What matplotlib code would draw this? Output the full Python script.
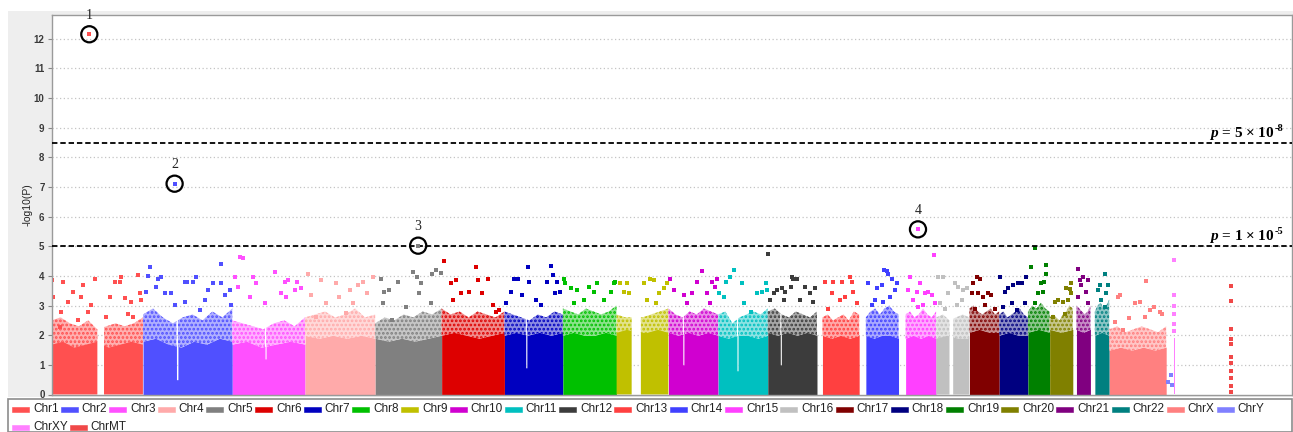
import numpy as np
import matplotlib
matplotlib.use("Agg")
import matplotlib.pyplot as plt
from matplotlib.patches import Rectangle
from matplotlib.colors import to_rgb

# ---------------- data ----------------
chrom_names = ["Chr1", "Chr2", "Chr3", "Chr4", "Chr5", "Chr6", "Chr7", "Chr8", "Chr9", "Chr10",
               "Chr11", "Chr12", "Chr13", "Chr14", "Chr15", "Chr16", "Chr17", "Chr18", "Chr19",
               "Chr20", "Chr21", "Chr22", "ChrX", "ChrY", "ChrXY", "ChrMT"]
chrom_colors = ["#ff5050", "#5050ff", "#ff50ff", "#ffaaaa", "#808080", "#dd0000", "#0000c0",
                "#00c000", "#c0c000", "#d000d0", "#00c0c0", "#3c3c3c", "#ff4040", "#4040ff",
                "#ff40ff", "#c0c0c0", "#800000", "#000080", "#008000", "#808000", "#800080",
                "#008080", "#ff8080", "#8080ff", "#ff80ff", "#f04848"]
# chromosome lengths (Mb) used for the cumulative x axis
chrom_len = [249.3, 243.2, 198.0, 191.2, 180.9, 171.1, 159.1, 146.4, 141.2, 135.5, 135.0, 133.9,
             115.2, 107.3, 102.5, 90.4, 81.2, 78.1, 59.1, 63.0, 48.1, 51.3, 155.3, 20.0, 155.0, 166.0]
# first position with markers (Mb) and last position, Chr1..ChrX
band_start = [0, 0, 0, 0, 0, 0, 0, 0, 0, 0, 0, 0, 15, 18, 19, 0, 0, 0, 0, 0, 10, 12, 0]
band_end = [249, 243, 198, 191, 181, 171, 159, 146, 141, 135, 135, 134, 115, 107, 102, 90, 81, 78,
            59, 63, 48, 51, 155]
# silhouette of the fully covered part of each column
solid_top = [
    [1.7, 1.8, 1.6, 1.7, 1.8, 1.6, 1.7, 1.8, 1.7],
    [1.8, 1.9, 1.7, 1.6, 1.8, 1.7, 1.9, 1.8],
    [1.7, 1.8, 1.6, 1.7, 1.8, 1.7],
    [2.0, 1.9, 2.0, 1.9, 2.0, 1.9],
    [1.9, 1.8, 1.9, 1.8, 1.9, 2.0],
    [2.0, 2.1, 2.0, 1.9, 2.0, 2.1],
    [2.0, 2.1, 2.0, 2.1, 2.0, 2.1],
    [2.0, 2.1, 2.0, 2.0, 2.1, 2.0],
    [2.1, 2.2, 2.1, 2.1, 2.2, 2.1],
    [2.1, 2.0, 2.1, 2.0, 2.1, 2.0],
    [2.0, 1.9, 2.0, 2.0, 1.9, 2.0],
    [2.1, 2.0, 2.1, 2.0, 2.1, 2.0],
    [2.0, 1.9, 2.0, 1.9, 2.0],
    [2.0, 1.9, 2.0, 2.0, 1.9],
    [1.9, 2.0, 1.9, 2.0, 1.9],
    [1.9, 2.0, 1.9, 1.9],
    [2.1, 2.2, 2.1, 2.1],
    [2.0, 2.1, 2.0, 2.0],
    [2.1, 2.2, 2.1],
    [2.2, 2.1, 2.2],
    [2.2, 2.1, 2.2],
    [2.0, 2.1, 2.0],
    [1.5, 1.6, 1.5, 1.6, 1.5, 1.6],
]
# silhouette of the dense (speckled) zone, read left to right along each chromosome
dense_top = [
    [2.5, 2.6, 2.4, 2.3, 2.5, 2.2, 2.3, 2.4, 2.3, 2.4, 2.6],
    [2.7, 2.9, 2.6, 2.4, 2.6, 2.7, 2.5, 2.8, 2.6, 2.9],
    [2.5, 2.4, 2.3, 2.2, 2.4, 2.5, 2.3, 2.6],
    [2.6, 2.7, 2.8, 2.6, 2.7, 2.9, 2.6, 2.7],
    [2.4, 2.6, 2.5, 2.7, 2.6, 2.8, 2.7, 2.9],
    [2.9, 2.7, 2.8, 2.6, 2.8, 2.7, 2.6, 2.8],
    [2.8, 2.7, 2.6, 2.5, 2.7, 2.6, 2.8, 2.7],
    [2.9, 2.8, 2.7, 2.9, 2.8, 2.7, 2.8, 3.0],
    [2.7, 2.6, 2.6, 2.6, 2.7, 2.8, 2.9],
    [2.9, 2.7, 2.6, 2.8, 2.7, 2.9, 2.8, 2.7],
    [2.7, 2.8, 2.4, 2.6, 2.7, 2.8, 2.7, 2.9],
    [2.8, 2.9, 2.7, 2.6, 2.8, 2.7, 2.6, 2.8],
    [2.6, 2.7, 2.5, 2.6, 2.7, 2.5, 2.8, 2.7],
    [2.6, 2.8, 2.9, 2.7, 2.9, 3.0, 2.8, 2.7],
    [2.7, 2.8, 2.6, 2.7, 2.9, 2.7, 2.6, 2.8],
    [2.6, 2.7, 2.5, 2.6, 2.7, 2.6],
    [2.9, 3.0, 2.8, 2.7, 2.8, 2.9, 2.7, 2.8],
    [2.7, 2.8, 2.6, 2.7, 2.8, 2.9, 2.7, 2.6],
    [2.8, 3.0, 2.9, 3.1, 2.9, 2.8],
    [2.6, 2.7, 2.6, 2.5, 2.7, 2.8, 3.0, 2.9],
    [3.0, 2.9, 2.8, 2.7, 2.8, 3.0],
    [2.8, 3.0, 3.1, 2.9, 3.0, 3.2],
    [2.2, 2.3, 2.1, 2.2, 2.3, 2.2, 2.1, 2.3],
]
# regions without (or with only low) markers: chromosome index, start, end, remaining height
gap_chrom = [0, 1, 2, 6, 8, 9, 10, 11, 15]
gap_start = [125, 91, 89, 58, 41, 39, 51, 34, 36]
gap_end = [143, 95, 92, 61, 66, 42, 54, 37, 46]
gap_height = [0.0, 0.5, 1.2, 0.9, 0.0, 1.0, 0.8, 1.0, 0.0]

# ChrXY dense column
xy_band = (0.0, 3.0)
xy_solid = 1.9

# sparse upper markers (position in Mb within chromosome, -log10 P)
chr1_pos = [1, 4, 31, 27, 45, 58, 81, 86, 99, 118, 108, 158, 172, 186, 188, 199, 217, 235, 240, 244, 22, 72, 149, 208, 222]
chr1_val = [3.86, 3.30, 3.80, 2.79, 3.13, 3.47, 3.30, 3.69, 2.79, 3.91, 3.02, 3.30, 3.80, 3.80, 3.97, 3.24, 3.13, 4.03, 3.41, 3.19, 2.29, 2.51, 2.62, 2.73, 2.62]
chr2_pos = [13, 18, 41, 50, 36, 9, 59, 77, 86, 113, 120, 136, 145, 177, 190, 211, 213, 222, 236, 239, 168, 154, 113]
chr2_val = [4.00, 4.31, 3.91, 3.97, 3.63, 3.47, 3.41, 3.43, 3.02, 3.80, 3.80, 3.80, 3.97, 3.52, 3.75, 4.40, 3.75, 3.35, 3.52, 3.02, 3.19, 2.85, 3.13]
chr3_pos = [20, 29, 6, 15, 56, 65, 47, 115, 151, 133, 88, 147, 170, 143, 175, 188]
chr3_val = [4.63, 4.59, 3.97, 3.63, 3.97, 3.75, 3.30, 4.14, 3.86, 3.41, 3.07, 3.30, 3.52, 3.81, 3.80, 3.60]
chr4_pos = [7, 43, 16, 84, 93, 143, 157, 184, 130, 57, 111, 30, 122, 170]
chr4_val = [4.08, 3.86, 3.35, 3.75, 3.30, 3.69, 3.80, 3.97, 3.07, 3.07, 2.74, 2.62, 3.52, 3.41]
chr5_pos = [15, 25, 38, 61, 84, 102, 115, 124, 120, 156, 165, 178, 152, 20, 47]
chr5_val = [3.91, 3.47, 3.52, 3.80, 2.96, 4.14, 3.97, 3.75, 3.41, 4.08, 4.20, 4.11, 3.07, 3.07, 2.51]
chr6_pos = [7, 25, 39, 52, 93, 98, 111, 125, 139, 30, 75, 148, 157]
chr6_val = [4.49, 3.75, 3.86, 3.41, 4.29, 3.86, 3.41, 3.91, 3.02, 3.19, 3.47, 2.79, 2.85]
chr7_pos = [26, 36, 4, 17, 65, 67, 85, 99, 49, 127, 132, 116, 143, 152, 139]
chr7_val = [3.88, 3.91, 3.07, 3.47, 4.31, 3.80, 3.19, 3.02, 3.35, 4.33, 4.03, 3.80, 3.80, 3.47, 3.41]
chr8_pos = [3, 7, 21, 39, 71, 84, 93, 130, 139, 143, 57, 112, 30]
chr8_val = [3.88, 3.75, 3.58, 3.52, 3.61, 3.47, 3.75, 3.47, 3.75, 3.80, 3.19, 3.19, 3.07]
chr9_pos = [10, 28, 19, 33, 74, 92, 101, 115, 128, 137, 83, 106]
chr9_val = [3.75, 3.75, 3.47, 3.41, 3.75, 3.91, 3.86, 3.41, 3.58, 3.75, 3.19, 3.07]
chr10_pos = [3, 14, 42, 64, 78, 92, 105, 119, 128, 132, 51, 114]
chr10_val = [3.91, 3.52, 3.35, 3.41, 3.80, 4.17, 3.41, 3.80, 3.63, 3.91, 3.07, 3.07]
chr11_pos = [20, 33, 42, 65, 1, 15, 70, 106, 119, 129, 133, 88]
chr11_val = [3.80, 3.97, 4.20, 3.75, 3.41, 3.30, 3.07, 3.41, 3.47, 3.75, 3.52, 2.79]
chr12_pos = [1, 16, 25, 39, 48, 62, 7, 43, 70, 79, 101, 115, 129, 88, 124, 65]
chr12_val = [4.73, 3.41, 3.52, 3.58, 3.47, 3.63, 3.19, 3.19, 3.88, 3.91, 3.63, 3.41, 3.58, 3.19, 3.13, 3.97]
chr13_pos = [22, 45, 67, 90, 95, 40, 63, 76, 108, 31, 99]
chr13_val = [3.80, 3.80, 3.80, 3.97, 3.80, 3.41, 3.19, 3.30, 3.07, 2.90, 3.47]
chr14_pos = [25, 47, 61, 68, 75, 79, 88, 102, 43, 34, 66, 84, 97]
chr14_val = [3.75, 3.58, 3.69, 4.20, 4.17, 4.08, 3.91, 3.75, 3.19, 3.02, 3.13, 3.30, 3.52]
chr15_pos = [26, 31, 49, 58, 72, 81, 90, 67, 40, 99, 54, 97]
chr15_val = [3.52, 3.97, 3.47, 3.75, 3.41, 3.47, 3.35, 3.02, 3.19, 3.07, 2.96, 4.70]
chr16_pos = [6, 19, 10, 33, 51, 60, 74, 83, 56, 24, 69]
chr16_val = [3.97, 3.97, 3.07, 3.41, 3.75, 3.63, 3.52, 3.58, 3.02, 2.90, 3.19]
chr17_pos = [10, 20, 29, 6, 24, 38, 51, 60, 69, 42, 15]
chr17_val = [3.75, 3.97, 3.91, 3.41, 3.41, 3.30, 3.41, 3.35, 2.90, 3.02, 2.90]
chr18_pos = [2, 15, 25, 38, 52, 61, 70, 34, 11, 47, 74]
chr18_val = [3.97, 3.47, 3.58, 3.69, 3.75, 3.75, 3.07, 3.07, 2.96, 2.85, 3.97]
chr19_pos = [7, 20, 50, 48, 36, 41, 45, 19, 28]
chr19_val = [4.31, 4.95, 4.37, 4.06, 3.75, 3.47, 3.80, 3.07, 3.41]
chr20_pos = [14, 23, 36, 50, 59, 59, 45, 9, 41, 55]
chr20_val = [3.13, 3.19, 3.13, 3.19, 3.75, 3.41, 3.58, 2.62, 2.73, 3.56]
chr21_pos = [14, 28, 19, 41, 37, 23, 41, 14]
chr21_val = [4.22, 3.97, 3.86, 3.86, 3.47, 3.69, 3.07, 3.30]
chr22_pos = [41, 25, 48, 20, 30, 43, 39]
chr22_val = [4.05, 3.69, 3.69, 3.52, 3.19, 3.41, 2.96]
chrX_pos = [99, 24, 30, 83, 69, 110, 123, 137, 144, 37, 55, 15, 96]
chrX_val = [3.84, 3.30, 3.35, 3.11, 3.07, 2.85, 2.96, 2.79, 2.73, 2.18, 2.57, 2.46, 2.62]
chrY_pos = [4, 12, 15]
chrY_val = [0.41, 0.66, 0.32]
chrXY_pos = [1, 1, 1, 1, 1, 1]
chrXY_val = [4.52, 3.37, 3.00, 2.70, 2.37, 2.15]
chrMT_pos = [0.5] * 11
chrMT_val = [3.67, 3.17, 2.21, 1.86, 1.70, 1.25, 1.06, 0.80, 0.55, 0.30, 0.10]

# circled top hits
hit_chrom = [0, 1, 4, 14]
hit_pos = [103, 86, 117, 52.7]
hit_val = [12.15, 7.11, 5.02, 5.57]
hit_label = ["1", "2", "3", "4"]

# significance lines
thr_high = 8.47
thr_low = 5.0
thr_high_label = ("5", "-8")
thr_low_label = ("1", "-5")

y_ticks = list(range(0, 13))
y_label = "-log10(P)"

# ---------------- drawing ----------------
plt.rcParams["mathtext.fontset"] = "custom"
plt.rcParams["mathtext.it"] = "Liberation Serif:italic:bold"
plt.rcParams["mathtext.rm"] = "Liberation Serif:bold"
plt.rcParams["mathtext.bf"] = "Liberation Serif:bold"
plt.rcParams["hatch.linewidth"] = 1.3

W, H = 1293, 432
fig = plt.figure(figsize=(W / 100, H / 100), dpi=100)
fig.patch.set_facecolor("white")


def box(x0, y0, x1, y1):
    return [x0 / W, 1 - y1 / H, (x1 - x0) / W, (y1 - y0) / H]


fig.patches.append(Rectangle((8 / W, 1 - 397 / H), (W - 8) / W, (397 - 11) / H,
                             transform=fig.transFigure, facecolor="#eeeeee",
                             edgecolor="none", zorder=-5))
fig.patches.append(Rectangle((8 / W, 0), (W - 9) / W, (H - 398.5) / H,
                             transform=fig.transFigure, facecolor="white",
                             edgecolor="#8c8c8c", lw=1.2, zorder=-4))

ax = fig.add_axes(box(51.5, 15, 1291.5, 394.5))
ax.set_zorder(2)
ax.set_facecolor("white")
offsets = np.concatenate([[0], np.cumsum(chrom_len)[:-1]])
ax.set_xlim(0, float(np.sum(chrom_len)))
ax.set_ylim(0, 12.8)

for v in y_ticks[1:]:
    ax.axhline(v, color="#c4c4c4", lw=0.9, ls=(0, (1, 2)), zorder=0)

# dense columns
for i in range(len(band_start)):
    off = offsets[i]
    lo, hi = band_start[i], band_end[i]
    xs = np.linspace(lo, hi, 1500)
    dprof = np.asarray(dense_top[i], float)
    sprof = np.asarray(solid_top[i], float)
    top = np.interp(xs, np.linspace(lo, hi, len(dprof)), dprof)
    solid = np.interp(xs, np.linspace(lo, hi, len(sprof)), sprof)
    for g, g0, g1, gh in zip(gap_chrom, gap_start, gap_end, gap_height):
        if g == i:
            inside = (xs >= g0) & (xs <= g1)
            solid[inside] = gh
            top[inside] = gh
    c = chrom_colors[i]
    tint = tuple(0.55 + 0.45 * np.array(to_rgb(c)))
    ax.fill_between(off + xs, 0, solid, where=solid > 0, color=c, lw=0, zorder=1)
    ax.fill_between(off + xs, solid - 0.02, top, where=top > solid, facecolor=tint,
                    edgecolor=c, hatch="....", lw=0, zorder=1)

ixy = chrom_names.index("ChrXY")
ax.fill_between(offsets[ixy] + np.array(xy_band), 0, xy_solid, color=chrom_colors[ixy], lw=0, zorder=1)

point_sets = [(chr1_pos, chr1_val), (chr2_pos, chr2_val), (chr3_pos, chr3_val), (chr4_pos, chr4_val),
              (chr5_pos, chr5_val), (chr6_pos, chr6_val), (chr7_pos, chr7_val), (chr8_pos, chr8_val),
              (chr9_pos, chr9_val), (chr10_pos, chr10_val), (chr11_pos, chr11_val),
              (chr12_pos, chr12_val), (chr13_pos, chr13_val), (chr14_pos, chr14_val),
              (chr15_pos, chr15_val), (chr16_pos, chr16_val), (chr17_pos, chr17_val),
              (chr18_pos, chr18_val), (chr19_pos, chr19_val), (chr20_pos, chr20_val),
              (chr21_pos, chr21_val), (chr22_pos, chr22_val), (chrX_pos, chrX_val),
              (chrY_pos, chrY_val), (chrXY_pos, chrXY_val), (chrMT_pos, chrMT_val)]
for i, (p, v) in enumerate(point_sets):
    ax.scatter(offsets[i] + np.asarray(p, float), v, s=6.5, marker="s", color=chrom_colors[i],
               linewidths=0, zorder=2)

for ci, p, v in zip(hit_chrom, hit_pos, hit_val):
    ax.scatter(offsets[ci] + p, v, s=6.5, marker="s", color=chrom_colors[ci], linewidths=0, zorder=5)
ax.scatter(offsets[hit_chrom] + np.asarray(hit_pos), hit_val, s=135, facecolors="none",
           edgecolors="black", linewidths=1.6, zorder=6)
for ci, p, v, lab in zip(hit_chrom, hit_pos, hit_val, hit_label):
    ax.annotate(lab, (offsets[ci] + p, v), xytext=(0, 9), textcoords="offset points",
                ha="center", va="bottom", fontsize=10, family="Liberation Serif", color="#222222",
                zorder=6)

renderer = fig.canvas.get_renderer()
for thr, (mant, expo) in [(thr_high, thr_high_label), (thr_low, thr_low_label)]:
    ax.axhline(thr, color="black", lw=1.3, ls=(0, (3, 1.6)), zorder=4)
    sup = ax.annotate(expo, (0.9935, thr + 0.2), xycoords=ax.get_yaxis_transform(),
                      xytext=(0, 4.5), textcoords="offset points", ha="right", va="baseline",
                      fontsize=7.5, family="Liberation Serif", weight="bold", zorder=6)
    wsup = sup.get_window_extent(renderer).width * 72 / fig.dpi
    ax.annotate(r"$p$ = " + mant + " × 10", (0.9935, thr + 0.2),
                xycoords=ax.get_yaxis_transform(), xytext=(-wsup - 0.3, 0),
                textcoords="offset points", ha="right", va="baseline", fontsize=11,
                family="Liberation Serif", weight="bold", zorder=6)

ax.set_yticks(y_ticks)
ax.set_yticklabels([str(t) for t in y_ticks], fontsize=7, weight="bold", color="#3a3a3a",
                   family="Liberation Sans")
ax.tick_params(axis="y", length=3, width=0.8, color="#888888", pad=2)
ax.set_xticks([])
for s in ax.spines.values():
    s.set_color("#9a9a9a")
    s.set_linewidth(1.0)
ax.set_ylabel(y_label, fontsize=7.5, family="Liberation Sans", color="#222222")
ax.yaxis.set_label_coords((33 - 51.5) / 1240, 0.5)

# legend (flow layout in two rows)
rows = [chrom_names[:24], chrom_names[24:]]
row_y = [409.5, 427.5]
for names, yy in zip(rows, row_y):
    x = 12.0
    for nm in names:
        c = chrom_colors[chrom_names.index(nm)]
        fig.patches.append(Rectangle((x / W, 1 - (yy + 2.5) / H), 17 / W, 5 / H,
                                     transform=fig.transFigure, facecolor=c,
                                     edgecolor=c, lw=0.4, zorder=3))
        t = fig.text((x + 21) / W, 1 - yy / H, nm, fontsize=8.5, family="Liberation Sans",
                     color="#222222", va="center", ha="left", zorder=3)
        wpx = t.get_window_extent(renderer).width
        x = x + 21 + wpx + 2.05

fig.savefig("out.png", dpi=100)
